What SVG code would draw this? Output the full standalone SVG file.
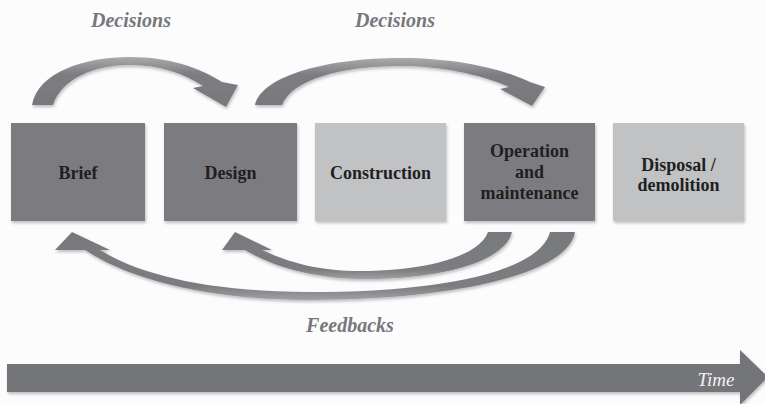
<svg xmlns="http://www.w3.org/2000/svg" width="765" height="404" viewBox="0 0 765 404">
  <defs>
    <filter id="sh" x="-10%" y="-10%" width="120%" height="130%">
      <feDropShadow dx="1" dy="2" stdDeviation="1.5" flood-color="#000" flood-opacity="0.25"/>
    </filter>
    <linearGradient id="arcTop" x1="0" y1="0" x2="0" y2="1">
      <stop offset="0" stop-color="#a9aaad"/>
      <stop offset="0.35" stop-color="#7c7d81"/>
      <stop offset="1" stop-color="#77787c"/>
    </linearGradient>
    <linearGradient id="arcBot" x1="0" y1="0" x2="0" y2="1">
      <stop offset="0" stop-color="#78797d"/>
      <stop offset="0.8" stop-color="#7c7d81"/>
      <stop offset="1" stop-color="#a0a1a4"/>
    </linearGradient>
  </defs>
  <style>
    .dark { fill: #7b7c80; }
    .light { fill: #c1c2c4; }
    .box { filter: url(#sh); }
    .lbl { font-family: 'Liberation Serif', 'DejaVu Serif', serif; font-weight: bold; font-size: 18px; fill: #1f1f1f; text-anchor: middle; }
    .cap { font-family: 'Liberation Serif', 'DejaVu Serif', serif; font-weight: bold; font-style: italic; font-size: 20px; fill: #77787c; text-anchor: middle; }
    .time { font-family: 'Liberation Serif', 'DejaVu Serif', serif; font-style: italic; font-size: 19px; fill: #f2f2f2; text-anchor: middle; }
    .arc { filter: url(#sh); }
  </style>
  <rect width="765" height="404" fill="#fcfcfc"/>

  <text class="cap" x="131" y="27">Decisions</text>
  <text class="cap" x="395" y="27">Decisions</text>
  <text class="cap" x="350" y="332">Feedbacks</text>

  <g id="connectors">
    <path class="arc" fill="url(#arcTop)" d="M32,105 C38,72 85,57 130,57 C170,57 200,68 222,82 L238,85 L226,107 L193,88 L203,86 C185,74 160,65 130,65 C95,65 62,78 53,105 Z"/>
    <path class="arc" fill="url(#arcTop)" d="M255,105 C262,75 330,58 400,58 C460,58 505,70 530,82 L545,87 L532,106 L500,89 L509,87 C480,74 440,66 400,66 C340,66 292,80 282,105 Z"/>
    <path class="arc" fill="url(#arcBot)" d="M512,232 C505,262 440,280 360,279 C310,278 270,265 245,250 L222,250 L235,232 L272,250 L262,250 C290,263 320,271 360,271 C430,271 480,255 488,232 Z"/>
    <path class="arc" fill="url(#arcBot)" d="M575,232 C568,275 450,300 310,300 C210,300 130,280 85,250 L55,250 L72,232 L110,250 L100,250 C140,275 210,292 310,292 C440,292 540,272 550,232 Z"/>
  </g>

  <g id="brief">
    <rect class="dark box" x="11" y="123" width="134" height="98"/>
    <text class="lbl" x="78" y="179">Brief</text>
  </g>
  <g id="design">
    <rect class="dark box" x="164" y="123" width="133" height="98"/>
    <text class="lbl" x="230.5" y="179">Design</text>
  </g>
  <g id="construction">
    <rect class="light box" x="315" y="123" width="131" height="98"/>
    <text class="lbl" x="380.5" y="179">Construction</text>
  </g>
  <g id="operation">
    <rect class="dark box" x="464" y="123" width="131" height="98"/>
    <text class="lbl" x="529.5" y="157">Operation</text>
    <text class="lbl" x="529.5" y="178">and</text>
    <text class="lbl" x="529.5" y="199">maintenance</text>
  </g>
  <g id="disposal">
    <rect class="light box" x="613" y="123" width="131" height="98"/>
    <text class="lbl" x="678.5" y="171">Disposal /</text>
    <text class="lbl" x="678.5" y="191">demolition</text>
  </g>

  <g id="time">
    <path class="box" fill="#737478" d="M7,364 L740,364 L740,350 L768,377 L740,405 L740,392 L7,392 Z"/>
    <text class="time" x="716" y="386">Time</text>
  </g>
</svg>
